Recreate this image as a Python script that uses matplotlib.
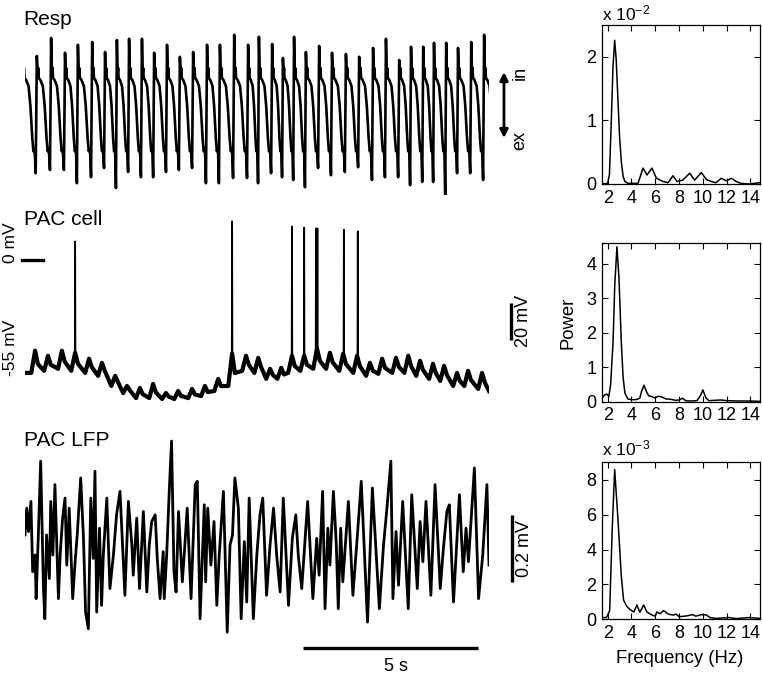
import numpy as np
import matplotlib
matplotlib.use("Agg")
import matplotlib.pyplot as plt

plt.rcParams['font.family'] = ['Liberation Sans', 'DejaVu Sans']
plt.rcParams['mathtext.fontset'] = 'custom'
plt.rcParams['mathtext.rm'] = 'Liberation Sans'
plt.rcParams['mathtext.it'] = 'Liberation Sans'

# ---------------- data ----------------
# Respiration trace (arbitrary units): cycle peaks, trough before each peak
resp_peak_t = [0.34, 0.75, 1.15, 1.52, 1.93, 2.30, 2.64, 2.99, 3.36, 3.71, 4.08, 4.45,
               4.83, 5.23, 5.60, 6.01, 6.41, 6.72, 7.10, 7.41, 7.73, 8.07, 8.45, 8.82,
               9.22, 9.60, 10.00, 10.37, 10.75, 11.09, 11.44, 11.75, 12.10, 12.44, 12.82, 13.19]
resp_peak_v = [1.60, 2.05, 1.68, 1.88, 1.95, 1.70, 2.00, 2.03, 2.03, 1.68, 1.88, 1.58,
               1.70, 1.88, 1.88, 2.13, 1.88, 2.08, 1.90, 1.55, 2.08, 1.70, 1.85, 1.68,
               1.65, 1.58, 1.80, 2.03, 1.50, 1.83, 1.83, 1.93, 1.93, 1.80, 1.95, 2.13]
resp_trough_v = [-1.33, -1.25, -1.25, -1.58, -1.43, -1.20, -1.70, -1.30, -1.43, -1.43, -1.30, -1.25,
                 -1.20, -1.58, -1.58, -1.45, -1.45, -1.58, -1.33, -1.43, -1.50, -1.68, -1.20, -1.38,
                 -1.30, -1.18, -1.50, -1.43, -1.43, -1.63, -1.55, -1.55, -1.88, -1.33, -1.33, -1.50]
# typical waveform between two peaks (fraction of cycle, level)
resp_wave_phase = [0.06, 0.10, 0.14, 0.25, 0.42, 0.55, 0.68, 0.76, 0.82, 0.86]
resp_wave_level = [1.15, 1.30, 1.05, 1.00, 0.85, 0.35, -0.45, -0.78, -0.72, -0.85]

# PAC cell membrane potential (mV): slow bumps, troughs before each bump, spikes
cell_bump_t = [0.29, 0.66, 1.06, 1.44, 1.84, 2.21, 2.59, 2.93, 3.30, 3.68, 4.05, 4.40,
               4.80, 5.17, 5.55, 5.95, 6.35, 6.70, 7.04, 7.36, 7.67, 8.02, 8.39, 8.76,
               9.14, 9.54, 9.91, 10.26, 10.66, 11.01, 11.35, 11.72, 12.04, 12.41, 12.73, 13.13]
cell_bump_peak = [-48.6, -51.3, -48.6, -49.7, -52.9, -55.1, -62.1, -67.5, -68.6, -66.4, -71.3, -70.2,
                  -69.1, -67.5, -63.7, -50.2, -51.3, -52.4, -58.3, -57.8, -51.3, -51.3, -47.5, -49.7,
                  -50.2, -51.3, -55.1, -52.9, -52.4, -51.3, -54.0, -55.6, -56.7, -60.5, -59.4, -60.5]
cell_bump_trough = [-60.5, -59.4, -58.3, -59.4, -60.5, -62.1, -67.5, -71.3, -74.0, -74.0, -74.5, -74.5,
                    -74.0, -72.9, -70.2, -67.5, -59.4, -60.5, -63.7, -63.7, -60.5, -59.4, -58.3, -58.3,
                    -59.4, -60.5, -62.1, -61.0, -60.5, -60.5, -62.1, -63.7, -64.8, -67.5, -67.5, -69.1]
cell_start_v, cell_end_v = -60.5, -70.2
spike_t = [1.44, 5.95, 7.67, 8.02, 8.36, 8.40, 9.16, 9.56]
spike_peak = [9.9, 20.7, 18.0, 17.4, 16.9, 16.9, 16.2, 15.3]

# PAC LFP (mV): successive turning points
lfp_t = [0.00, 0.05, 0.10, 0.17, 0.22, 0.29, 0.32, 0.38, 0.45, 0.53, 0.57, 0.62, 0.70, 0.74, 0.80,
         0.86, 0.96, 1.01, 1.08, 1.15, 1.20, 1.27, 1.37, 1.44, 1.50, 1.60, 1.68, 1.74, 1.82, 1.89,
         1.96, 2.01, 2.06, 2.14, 2.20, 2.25, 2.35, 2.44, 2.54, 2.63, 2.73, 2.87, 2.97, 3.07, 3.11,
         3.21, 3.29, 3.40, 3.50, 3.57, 3.64, 3.74, 3.80, 3.88, 3.97, 4.00, 4.07, 4.14, 4.21, 4.28,
         4.34, 4.41, 4.52, 4.58, 4.66, 4.77, 4.89, 4.95, 5.03, 5.15, 5.19, 5.25, 5.34, 5.43, 5.51,
         5.58, 5.70, 5.81, 5.89, 5.96, 6.03, 6.13, 6.21, 6.30, 6.37, 6.44, 6.56, 6.66, 6.75, 6.83,
         6.94, 7.04, 7.14, 7.23, 7.33, 7.42, 7.57, 7.68, 7.78, 7.85, 7.95, 8.12, 8.27, 8.38, 8.45,
         8.55, 8.62, 8.70, 8.76, 8.86, 8.94, 9.00, 9.07, 9.13, 9.29, 9.42, 9.55, 9.66, 9.84, 9.98,
         10.18, 10.30, 10.39, 10.51, 10.57, 10.66, 10.73, 10.85, 11.01, 11.11, 11.27, 11.35, 11.43,
         11.52, 11.66, 11.78, 11.93, 12.02, 12.12, 12.19, 12.31, 12.48, 12.59, 12.67, 12.74, 12.91,
         13.03, 13.15, 13.27, 13.33]
lfp_v = [0.06, 0.14, 0.07, 0.16, -0.05, 0.00, -0.13, 0.05, 0.28, -0.10, -0.19, 0.06, -0.07, 0.16, 0.00,
         0.21, -0.13, 0.00, 0.11, 0.17, -0.03, 0.14, -0.13, -0.02, 0.06, 0.23, 0.05, -0.17, -0.22, 0.17,
         -0.01, 0.25, -0.17, 0.08, -0.15, 0.00, 0.17, -0.10, 0.00, 0.12, 0.19, -0.12, 0.16, 0.03, -0.06,
         0.11, -0.10, 0.13, -0.11, 0.03, 0.10, 0.12, -0.01, -0.13, 0.01, -0.13, 0.00, 0.18, 0.34, -0.05,
         -0.11, 0.13, -0.08, 0.01, 0.14, -0.13, 0.21, 0.22, -0.19, 0.15, -0.08, 0.14, -0.03, 0.10, -0.15,
         0.00, 0.19, -0.23, 0.03, 0.06, 0.23, 0.14, -0.19, 0.04, -0.14, 0.17, -0.19, 0.00, 0.12, 0.17,
         -0.12, 0.03, 0.14, 0.00, -0.11, 0.17, -0.15, 0.05, 0.12, 0.00, -0.10, 0.16, -0.13, 0.05, -0.06,
         0.19, -0.16, 0.08, -0.03, 0.19, 0.04, -0.16, 0.08, -0.08, 0.16, -0.12, 0.06, 0.22, -0.20, 0.20,
         -0.16, 0.03, 0.13, 0.28, -0.13, 0.07, -0.09, 0.16, -0.16, 0.18, -0.10, 0.10, -0.02,
         0.16, -0.12, 0.21, -0.10, 0.02, 0.13, 0.15, -0.14, 0.18, -0.05, 0.08, -0.02, 0.26,
         -0.13, 0.00, 0.21, -0.03]

# Power spectra
resp_f = [1.5, 2.0, 2.15, 2.3, 2.45, 2.59, 2.72, 2.87, 3.0, 3.15, 3.3, 3.45, 3.7, 4.55, 4.97, 5.3,
          5.72, 6.1, 6.65, 7.07, 7.49, 7.83, 8.3, 8.9, 9.3, 9.87, 10.3, 10.7, 11.1, 11.55, 11.97,
          12.4, 12.8, 13.2, 13.9, 14.8]
resp_pow = [0.0, 0.01, 0.15, 0.95, 1.85, 2.26, 1.95, 1.30, 0.75, 0.35, 0.12, 0.04, 0.01, 0.01, 0.25, 0.14,
            0.25, 0.09, 0.04, 0.02, 0.13, 0.04, 0.06, 0.17, 0.06, 0.18, 0.07, 0.04, 0.02, 0.09, 0.05,
            0.09, 0.04, 0.01, 0.0, 0.02]
cell_f = [1.5, 1.75, 1.95, 2.1, 2.25, 2.45, 2.6, 2.78, 2.95, 3.15, 3.3, 3.45, 3.7, 4.0, 4.4, 4.7,
          4.85, 5.05, 5.25, 5.45, 5.7, 5.95, 6.3, 6.6, 6.9, 7.3, 7.7, 8.0, 8.3, 8.55, 9.0, 9.5, 9.8,
          10.0, 10.25, 10.5, 11.0, 11.5, 12.0, 13.0, 14.0, 14.8]
cell_pow = [0.08, 0.20, 0.22, 0.15, 0.50, 1.70, 3.40, 4.50, 3.60, 1.70, 0.70, 0.25, 0.08, 0.06, 0.06, 0.10,
            0.30, 0.48, 0.30, 0.17, 0.15, 0.11, 0.16, 0.13, 0.08, 0.07, 0.04, 0.05, 0.10, 0.03, 0.02, 0.03, 0.18,
            0.34, 0.12, 0.03, 0.04, 0.05, 0.03, 0.02, 0.02, 0.01]
lfp_f = [1.5, 1.9, 2.17, 2.39, 2.59, 2.87, 3.15, 3.34, 3.6, 3.9, 4.2, 4.46, 4.7, 5.03, 5.3, 5.7, 6.0,
         6.14, 6.4, 6.7, 7.1, 7.5, 7.75, 8.0, 8.6, 9.15, 9.4, 9.9, 10.3, 10.6, 11.1, 12.2, 12.8, 13.9, 14.8]
lfp_pow = [0.10, 0.10, 0.50, 5.30, 8.60, 5.70, 2.45, 1.10, 0.75, 0.55, 0.42, 0.82, 0.40, 0.82, 0.42, 0.25, 0.18,
           0.42, 0.32, 0.50, 0.30, 0.24, 0.30, 0.15, 0.19, 0.27, 0.18, 0.27, 0.25, 0.10, 0.05, 0.10, 0.04, 0.10, 0.05]

freq_ticks = [2, 4, 6, 8, 10, 12, 14]
resp_pow_ticks = [0, 1, 2]
cell_pow_ticks = [0, 1, 2, 3, 4]
lfp_pow_ticks = [0, 2, 4, 6, 8]

# ---------------- figure ----------------
W, H = 762, 674
fig = plt.figure(figsize=(W / 100, H / 100), dpi=100)


def rect(l, t, r, b):
    return [l / W, 1 - b / H, (r - l) / W, (b - t) / H]


T_END = 13.33

# build respiration trace
P0 = resp_peak_t[1] - resp_peak_t[0]
P1 = resp_peak_t[-1] - resp_peak_t[-2]
pt = [resp_peak_t[0] - P0] + resp_peak_t + [resp_peak_t[-1] + P1]
pv = [resp_peak_v[0]] + resp_peak_v + [resp_peak_v[-1]]
tv = [resp_trough_v[0]] + resp_trough_v + [resp_trough_v[-1]]
rt, rv = [], []
for i in range(len(pt) - 1):
    tp, tn = pt[i], pt[i + 1]
    P = tn - tp
    rt.append(tp); rv.append(pv[i])
    for ph, lv in zip(resp_wave_phase, resp_wave_level):
        rt.append(tp + ph * P); rv.append(lv)
    rt.append(tn - 0.08 * P); rv.append(tv[i + 1])
rt.append(pt[-1]); rv.append(pv[-1])

ax_r = fig.add_axes(rect(25, 30, 489, 195))
ax_r.plot(rt, rv, color='black', lw=1.9)
ax_r.set_xlim(0, T_END)
ax_r.set_ylim(-1.875, 2.25)
ax_r.axis('off')
ax_r.annotate('', xy=(13.76, 1.20), xytext=(13.76, -0.45),
              arrowprops=dict(arrowstyle='<|-|>', lw=2.0, color='black', mutation_scale=12,
                              shrinkA=0, shrinkB=0), annotation_clip=False)
ax_r.text(14.22, 1.17, 'in', rotation=90, ha='center', va='center', fontsize=13, clip_on=False)
ax_r.text(14.22, -0.5, 'ex', rotation=90, ha='center', va='center', fontsize=13, clip_on=False)

# build PAC cell trace
ct, cv = [0.0], [cell_start_v]
for tb, pk, tr in zip(cell_bump_t, cell_bump_peak, cell_bump_trough):
    ct += [tb - 0.11, tb, tb + 0.08]
    cv += [tr, pk, pk - 0.6 * (pk - tr)]
ct.append(T_END); cv.append(cell_end_v)

ax_c = fig.add_axes(rect(25, 215, 489, 405))
ax_c.plot(ct, cv, color='black', lw=3.0)
sx, sy = [], []
for ts, sp in zip(spike_t, spike_peak):
    base = np.interp(ts, ct, cv)
    sx += [ts - 0.008, ts, ts + 0.008, np.nan]
    sy += [base, sp, base, np.nan]
ax_c.plot(sx, sy, color='black', lw=1.3)
ax_c.set_xlim(0, T_END)
ax_c.set_ylim(-77.7, 24.1)
ax_c.axis('off')
ax_c.plot([-0.095, 0.526], [0, 0], color='black', lw=2.4, clip_on=False)
ax_c.text(-0.43, 9.1, '0 mV', rotation=90, ha='center', va='center', fontsize=12.5, clip_on=False)
ax_c.text(-0.43, -47.2, '-55 mV', rotation=90, ha='center', va='center', fontsize=12.5, clip_on=False)
ax_c.plot([13.97, 13.97], [-23, -43], color='black', lw=2.4, clip_on=False, solid_capstyle='butt')
ax_c.text(14.33, -32.5, '20 mV', rotation=90, ha='center', va='center', fontsize=13, clip_on=False)

# PAC LFP trace
ax_l = fig.add_axes(rect(25, 430, 489, 660))
ax_l.plot(lfp_t, lfp_v, color='black', lw=2.0)
ax_l.set_xlim(0, T_END)
ax_l.set_ylim(-0.313, 0.373)
ax_l.axis('off')
ax_l.plot([14.0, 14.0], [0.12, -0.08], color='black', lw=2.4, clip_on=False, solid_capstyle='butt')
ax_l.text(14.36, 0.02, '0.2 mV', rotation=90, ha='center', va='center', fontsize=13, clip_on=False)
ax_l.plot([8.0, 13.0], [-0.278, -0.278], color='black', lw=2.4, clip_on=False, solid_capstyle='butt')
ax_l.text(10.66, -0.333, '5 s', ha='center', va='center', fontsize=13, clip_on=False)

fig.text(23.5 / W, 1 - 25 / H, 'Resp', fontsize=15, va='baseline', ha='left')
fig.text(23.5 / W, 1 - 225 / H, 'PAC cell', fontsize=15, va='baseline', ha='left')
fig.text(23.5 / W, 1 - 446.5 / H, 'PAC LFP', fontsize=15, va='baseline', ha='left')


def spec_axes(r, f, p, yt, ylim):
    ax = fig.add_axes(r)
    ax.plot(f, p, color='black', lw=1.1)
    ax.set_xlim(1.5, 14.8)
    ax.set_ylim(*ylim)
    ax.set_xticks(freq_ticks)
    ax.set_yticks(yt)
    ax.tick_params(direction='in', length=4, width=0.8, top=True, right=True,
                   labelsize=13, pad=4)
    for s in ax.spines.values():
        s.set_linewidth(0.9)
    return ax


spec_axes(rect(601.7, 25, 760, 184), resp_f, resp_pow, resp_pow_ticks, (0, 2.5))
spec_axes(rect(601.7, 243.3, 760, 401.7), cell_f, cell_pow, cell_pow_ticks, (0, 4.6))
spec_axes(rect(601.7, 461.7, 760, 619.3), lfp_f, lfp_pow, lfp_pow_ticks, (0, 9.05))

fig.text(601.7 / W, 1 - 20.5 / H, r'x 10$^{-2}$', fontsize=12.5, va='baseline', ha='left')
fig.text(601.7 / W, 1 - 455 / H, r'x 10$^{-3}$', fontsize=12.5, va='baseline', ha='left')
fig.text(568 / W, 1 - 323 / H, 'Power', rotation=90, fontsize=13.3, ha='center', va='center')
fig.text(680 / W, 1 - 663 / H, 'Frequency (Hz)', fontsize=13.3, ha='center', va='baseline')

fig.savefig('out.png', dpi=100)
